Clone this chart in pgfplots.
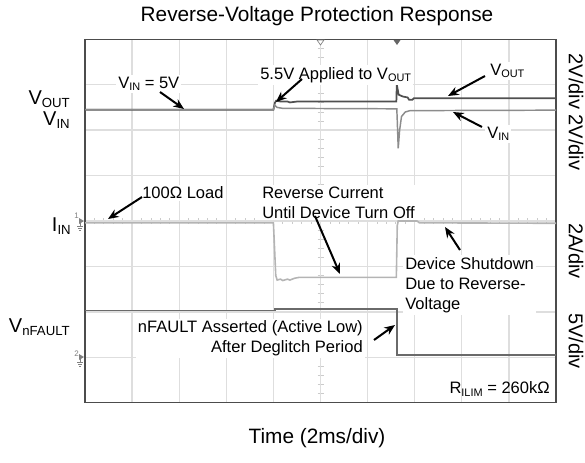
\documentclass[border=0pt]{standalone}
\usepackage{fontspec}
\setmainfont{Liberation Sans}
\usepackage{graphicx}
\usepackage{pgfplots}
\pgfplotsset{compat=1.18}
\usetikzlibrary{arrows.meta}
\newcommand{\sub}[1]{\raisebox{-0.15em}{\scalebox{0.66}{#1}}}
\newcommand{\lblfont}{\fontsize{15pt}{18pt}\selectfont}
\newcommand{\ttlfont}{\fontsize{15.6pt}{18pt}\selectfont}
\newcommand{\ann}{\fontsize{12.4pt}{15pt}\selectfont}
\definecolor{vout}{HTML}{505050}
\definecolor{vin}{HTML}{8C8C8C}
\definecolor{iin}{HTML}{B4B4B4}
\definecolor{nf}{HTML}{6A6A6A}
\definecolor{gridc}{HTML}{DEDEDE}
\begin{document}
\begin{tikzpicture}
% pixel frame (y down)
\begin{scope}[shift={(0,346.5pt)},x=0.75pt,y=-0.75pt]
\path[use as bounding box] (0,0) rectangle (585,462);
% centre graticule ticks
\foreach \i in {1,...,39} {\draw[gridc!80!gray,line width=0.6pt] (317.5,{39.3+\i*9.085}) -- ++(6,0);}
\foreach \i in {1,...,49} {\draw[gridc!80!gray,line width=0.6pt] ({85+\i*9.42},218) -- ++(0,6);}
\end{scope}

\begin{axis}[
  at={(63.75pt,44.475pt)}, anchor=south west,
  width=353.25pt, height=272.55pt, scale only axis,
  xmin=0, xmax=10, ymin=0, ymax=8,
  xtick={0,...,10}, ytick={0,...,8},
  xticklabels={}, yticklabels={},
  major tick length=0pt,
  grid=major,
  major grid style={color=gridc, line width=1pt},
  axis line style={color=black!70, line width=1pt},
  clip=false,
]
% V_OUT
\addplot[color=vout, line width=1.3pt] coordinates {
 (0,6.45) (4.0,6.45) (4.03,6.60) (4.06,6.65) (4.15,6.63) (4.3,6.63) (4.35,6.61) (4.5,6.63) (6.61,6.63)
 (6.62,7.0) (6.66,6.78) (6.75,6.74) (6.85,6.72) (6.88,6.67) (6.95,6.67) (6.98,6.70) (10,6.70)};
% V_IN
\addplot[color=vin, line width=1.1pt] coordinates {
 (0,6.45) (4.0,6.45) (4.03,6.55) (4.08,6.50) (4.2,6.48) (6.6,6.47) (6.62,6.47) (6.63,6.2) (6.65,5.6)
 (6.68,6.0) (6.72,6.3) (6.8,6.40) (6.9,6.43) (10,6.44)};
% I_IN
\addplot[color=iin, line width=1.2pt] coordinates {
 (0,3.96) (4.0,3.96) (4.02,3.5) (4.05,2.8) (4.08,2.70) (4.15,2.72) (4.2,2.69) (4.3,2.72) (4.35,2.70)
 (4.45,2.74) (4.55,2.76) (6.61,2.76) (6.63,3.9) (6.65,4.0) (7.05,4.0) (7.1,3.96) (10,3.95)};
% V_nFAULT
\addplot[color=nf, line width=1.3pt] coordinates {
 (0,2.03) (4.03,2.03) (4.03,2.06) (6.62,2.06) (6.62,1.05) (10,1.05)};
\end{axis}

\begin{scope}[shift={(0,346.5pt)},x=0.75pt,y=-0.75pt]
% trigger markers
\draw[gray,fill=white,line width=0.5pt] (317,40)--(324,40)--(320.5,45)--cycle;
\fill[black!60] (393.5,40)--(400.5,40)--(397,45)--cycle;
% ground markers
\node[font=\fontsize{6pt}{6pt}\selectfont, text=gray, inner sep=0] at (76.5,216) {1};
\fill[gray] (79,218)--(84,221)--(79,224)--cycle;
\draw[gray,line width=0.4pt] (80,221)--(80,226) (77,226)--(83,226) (78,228)--(82,228) (79,230)--(81,230);
\node[font=\fontsize{6pt}{6pt}\selectfont, text=gray, inner sep=0] at (76.5,354) {2};
\fill[gray] (79,354)--(84,357)--(79,360)--cycle;
\draw[gray,line width=0.4pt] (80,357)--(80,362) (77,362)--(83,362) (78,364)--(82,364) (79,366)--(81,366);

% titles
\node[font=\ttlfont] at (317,16) {Reverse-Voltage Protection Response};
\node[font=\ttlfont] at (317,438) {Time (2ms/div)};
% left channel labels
\node[anchor=east,font=\lblfont,inner sep=0] at (70,99) {V\sub{OUT}};
\node[anchor=east,font=\lblfont,inner sep=0] at (70,120) {V\sub{IN}};
\node[anchor=east,font=\lblfont,inner sep=0] at (71,226) {I\sub{IN}};
\node[anchor=east,font=\lblfont,inner sep=0] at (70,327) {V\sub{nFAULT}};
% right scale labels
\node[rotate=-90,font=\lblfont,inner sep=0] at (576,112) {2V/div 2V/div};
\node[rotate=-90,font=\lblfont,inner sep=0] at (576,251) {2A/div};
\node[rotate=-90,font=\lblfont,inner sep=0] at (576,341) {5V/div};

% annotations
\tikzset{arr/.style={-{Stealth[length=8pt,width=6.5pt]}, line width=1.5pt, black}}
\node[anchor=west,font=\ann,fill=white,inner sep=1.5pt] at (116,84) {V\sub{IN} = 5V};
\draw[arr] (160,92) -- (184,109);
\node[anchor=west,font=\ann,fill=white,inner sep=1.5pt] at (258,75) {5.5V Applied to V\sub{OUT}};
\draw[arr] (302,79) -- (276,102);
\node[anchor=west,font=\ann,fill=white,inner sep=1.5pt] at (488,71) {V\sub{OUT}};
\draw[arr] (485,76) -- (448,96);
\node[anchor=west,font=\ann,fill=white,inner sep=1.5pt] at (485,134) {V\sub{IN}};
\draw[arr] (482,127) -- (453,112);
\node[anchor=west,font=\ann,fill=white,inner sep=1.5pt] at (140,193) {100Ω Load};
\draw[arr] (142,197) -- (108,219);
\node[anchor=west,font=\ann,fill=white,inner sep=1.5pt,align=left] at (260,202.5) {Reverse Current\\Until Device Turn Off};
\draw[arr] (315,216) -- (340,274);
\node[anchor=west,font=\ann,fill=white,inner sep=1.5pt,align=left] at (403,285) {Device Shutdown\\Due to Reverse-\\Voltage};
\draw[arr] (460,250) -- (445,227);
\node[anchor=east,font=\ann,fill=white,inner sep=1.5pt,align=right] at (365,338.5) {nFAULT Asserted (Active Low)\\After Deglitch Period};
\draw[arr] (374,340) -- (395,325);
\node[anchor=east,font=\ann,inner sep=0] at (550,389) {R\sub{ILIM} = 260kΩ};
\end{scope}
\end{tikzpicture}
\end{document}
